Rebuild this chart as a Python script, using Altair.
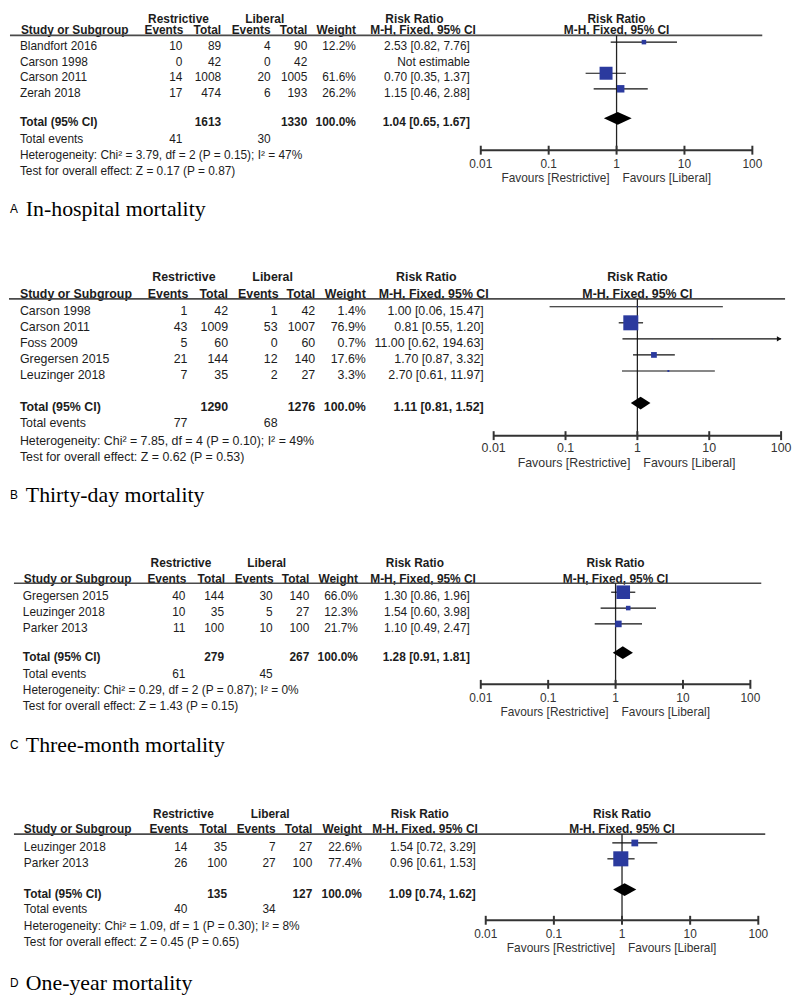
import altair as alt
import pandas as pd

# ---------------- data ----------------
# A  In-hospital mortality
a_study = ["Blandfort 2016", "Carson 1998", "Carson 2011", "Zerah 2018"]
a_r_ev = [10, 0, 14, 17]
a_r_tot = [89, 42, 1008, 474]
a_l_ev = [4, 0, 20, 6]
a_l_tot = [90, 42, 1005, 193]
a_weight = [12.2, None, 61.6, 26.2]
a_rr = [2.53, None, 0.70, 1.15]
a_lo = [0.82, None, 0.35, 0.46]
a_hi = [7.76, None, 1.37, 2.88]
a_totals = [1613, 1330]
a_events = [41, 30]
a_pooled = [1.04, 0.65, 1.67]
a_het = "Heterogeneity: Chi² = 3.79, df = 2 (P = 0.15); I² = 47%"
a_test = "Test for overall effect: Z = 0.17 (P = 0.87)"
a_label = ["A", "In-hospital mortality"]

# B  Thirty-day mortality
b_study = ["Carson 1998", "Carson 2011", "Foss 2009", "Gregersen 2015", "Leuzinger 2018"]
b_r_ev = [1, 43, 5, 21, 7]
b_r_tot = [42, 1009, 60, 144, 35]
b_l_ev = [1, 53, 0, 12, 2]
b_l_tot = [42, 1007, 60, 140, 27]
b_weight = [1.4, 76.9, 0.7, 17.6, 3.3]
b_rr = [1.00, 0.81, 11.00, 1.70, 2.70]
b_lo = [0.06, 0.55, 0.62, 0.87, 0.61]
b_hi = [15.47, 1.20, 194.63, 3.32, 11.97]
b_totals = [1290, 1276]
b_events = [77, 68]
b_pooled = [1.11, 0.81, 1.52]
b_het = "Heterogeneity: Chi² = 7.85, df = 4 (P = 0.10); I² = 49%"
b_test = "Test for overall effect: Z = 0.62 (P = 0.53)"
b_label = ["B", "Thirty-day mortality"]

# C  Three-month mortality
c_study = ["Gregersen 2015", "Leuzinger 2018", "Parker 2013"]
c_r_ev = [40, 10, 11]
c_r_tot = [144, 35, 100]
c_l_ev = [30, 5, 10]
c_l_tot = [140, 27, 100]
c_weight = [66.0, 12.3, 21.7]
c_rr = [1.30, 1.54, 1.10]
c_lo = [0.86, 0.60, 0.49]
c_hi = [1.96, 3.98, 2.47]
c_totals = [279, 267]
c_events = [61, 45]
c_pooled = [1.28, 0.91, 1.81]
c_het = "Heterogeneity: Chi² = 0.29, df = 2 (P = 0.87); I² = 0%"
c_test = "Test for overall effect: Z = 1.43 (P = 0.15)"
c_label = ["C", "Three-month mortality"]

# D  One-year mortality
d_study = ["Leuzinger 2018", "Parker 2013"]
d_r_ev = [14, 26]
d_r_tot = [35, 100]
d_l_ev = [7, 27]
d_l_tot = [27, 100]
d_weight = [22.6, 77.4]
d_rr = [1.54, 0.96]
d_lo = [0.72, 0.61]
d_hi = [3.29, 1.53]
d_totals = [135, 127]
d_events = [40, 34]
d_pooled = [1.09, 0.74, 1.62]
d_het = "Heterogeneity: Chi² = 1.09, df = 1 (P = 0.30); I² = 8%"
d_test = "Test for overall effect: Z = 0.45 (P = 0.65)"
d_label = ["D", "One-year mortality"]

tick_vals = [0.01, 0.1, 1, 10, 100]
tick_text = ["0.01", "0.1", "1", "10", "100"]

# ---------------- style ----------------
FONT = "Liberation Sans"
SERIF = "Liberation Serif"
TXT = "#1c1c1c"
GREY = "#333333"
BLUE = "#2b3a9e"
W = 784


def make_panel(d, lay, cols, hdr, xr, lx, y0, pitch, H, fs, smax):
    ys = alt.Scale(domain=[0, 10], range=[y0, y0 + 10 * pitch], nice=False, zero=False)
    xs = alt.Scale(type="log", domain=[0.01, 100], range=xr, nice=False)

    def Y(f):
        return alt.Y(f, type="quantitative", scale=ys, axis=None)

    def X(f):
        return alt.X(f, type="quantitative", scale=xs, axis=None)

    layers = []

    def lab(text, row, x, align="right", bold=False, size=None, font=FONT, color=TXT):
        df = pd.DataFrame({"row": [row], "t": [text]})
        layers.append(
            alt.Chart(df).mark_text(
                align=align, baseline="middle", font=font, fontSize=size or fs,
                fontWeight="bold" if bold else "normal", color=color,
            ).encode(x=alt.value(x), y=Y("row"), text=alt.Text("t:N"))
        )

    def col(df, field, x, align="right", bold=False):
        layers.append(
            alt.Chart(df).mark_text(
                align=align, baseline="middle", font=FONT, fontSize=fs,
                fontWeight="bold" if bold else "normal", color=TXT,
            ).encode(x=alt.value(x), y=Y("row"), text=alt.Text(field + ":N"))
        )

    n = len(d["study"])
    st = pd.DataFrame({
        "row": list(range(n)),
        "name": d["study"],
        "rev": [str(v) for v in d["r_ev"]],
        "rtot": [str(v) for v in d["r_tot"]],
        "lev": [str(v) for v in d["l_ev"]],
        "ltot": [str(v) for v in d["l_tot"]],
        "wt": ["" if w is None else f"{w:.1f}%" for w in d["weight"]],
        "rrs": ["Not estimable" if r is None else f"{r:.2f} [{l:.2f}, {h:.2f}]"
                for r, l, h in zip(d["rr"], d["lo"], d["hi"])],
    })

    # header lines
    lab("Restrictive", lay["h1"], hdr["restr"], "center", True)
    lab("Liberal", lay["h1"], hdr["lib"], "center", True)
    lab("Risk Ratio", lay["h1"], hdr["rr1"], "center", True)
    lab("Study or Subgroup", lay["h2"], hdr["study"], "left", True)
    lab("Events", lay["h2"], hdr["ev"], "right", True)
    lab("Total", lay["h2"], hdr["tot"], "right", True)
    lab("Events", lay["h2"], hdr["lev"], "right", True)
    lab("Total", lay["h2"], hdr["ltot"], "right", True)
    lab("Weight", lay["h2"], hdr["wt"], "right", True)
    lab("M-H, Fixed, 95% CI", lay["h2"], hdr["rr2"], "right", True)

    # study rows
    col(st, "name", cols["name"], "left")
    col(st, "rev", cols["ev"])
    col(st, "rtot", cols["tot"])
    col(st, "lev", cols["lev"])
    col(st, "ltot", cols["ltot"])
    col(st, "wt", cols["wt"])
    col(st, "rrs", cols["rr"])

    # total rows
    p = d["pooled"]
    lab("Total (95% CI)", lay["total"], cols["name"], "left", True)
    lab(str(d["totals"][0]), lay["total"], cols["tot"], "right", True)
    lab(str(d["totals"][1]), lay["total"], cols["ltot"], "right", True)
    lab("100.0%", lay["total"], cols["wt"], "right", True)
    lab(f"{p[0]:.2f} [{p[1]:.2f}, {p[2]:.2f}]", lay["total"], cols["rr"], "right", True)
    lab("Total events", lay["te"], cols["name"], "left")
    lab(str(d["events"][0]), lay["te"], cols["ev"], "right")
    lab(str(d["events"][1]), lay["te"], cols["lev"], "right")
    lab(d["het"], lay["het"], cols["name"], "left")
    lab(d["test"], lay["test"], cols["name"], "left")

    # forest headers
    hd = pd.DataFrame({"x": [1, 1], "row": [lay["h1"], lay["h2"]], "t": ["Risk Ratio", "M-H, Fixed, 95% CI"]})
    layers.append(
        alt.Chart(hd).mark_text(align="center", baseline="middle", font=FONT, fontSize=fs,
                                fontWeight="bold", color=TXT)
        .encode(x=X("x"), y=Y("row"), text="t:N")
    )

    # header rule
    layers.append(
        alt.Chart(pd.DataFrame({"row": [lay["line"]]})).mark_rule(color="#4a4a4a", strokeWidth=1.6)
        .encode(x=alt.value(lx[0]), x2=alt.value(lx[1]), y=Y("row"))
    )

    # vertical line at 1
    layers.append(
        alt.Chart(pd.DataFrame({"x": [1], "y": [lay["line"]], "y2": [lay["axis"]]}))
        .mark_rule(color="#222222", strokeWidth=1.3)
        .encode(x=X("x"), y=Y("y"), y2="y2:Q")
    )

    # study markers
    off = 4.0 / pitch
    fr = pd.DataFrame({
        "mrow": [i - off for i in range(n)],
        "rr": d["rr"], "lo": d["lo"], "hi": d["hi"], "w": d["weight"],
    }).dropna()
    fr["hic"] = fr["hi"].clip(upper=100)
    layers.append(
        alt.Chart(fr).mark_rule(color="#111111", strokeWidth=1.2)
        .encode(x=X("lo"), x2="hic:Q", y=Y("mrow"))
    )
    layers.append(
        alt.Chart(fr).mark_square(filled=True, color=BLUE, opacity=1)
        .encode(x=X("rr"), y=Y("mrow"),
                size=alt.Size("w:Q", scale=alt.Scale(type="pow", exponent=1.3, domain=[0, 100], range=[0, smax]),
                              legend=None))
    )
    arr = fr[fr["hi"] > 100]
    if len(arr):
        layers.append(
            alt.Chart(arr).mark_point(shape="triangle-right", filled=True, color="#111111", size=28, opacity=1, xOffset=-2)
            .encode(x=X("hic"), y=Y("mrow"))
        )

    # pooled diamond
    h = 6.5 / pitch
    tr = lay["total"] - off
    dm = pd.DataFrame({"x": [p[1], p[0], p[2]], "y": [tr, tr - h, tr], "y2": [tr, tr + h, tr]})
    layers.append(
        alt.Chart(dm).mark_area(color="#000000", opacity=1)
        .encode(x=X("x"), y=Y("y"), y2="y2:Q")
    )

    # axis
    layers.append(
        alt.Chart(pd.DataFrame({"x": [tick_vals[0]], "x2": [tick_vals[-1]], "row": [lay["axis"]]}))
        .mark_rule(color=GREY, strokeWidth=2)
        .encode(x=X("x"), x2="x2:Q", y=Y("row"))
    )
    tk = pd.DataFrame({"x": tick_vals, "t": tick_text, "row": [lay["axis"]] * 5, "trow": [lay["tick"]] * 5})
    layers.append(
        alt.Chart(tk).mark_tick(orient="vertical", size=9, thickness=2, color=GREY, opacity=1)
        .encode(x=X("x"), y=Y("row"))
    )
    layers.append(
        alt.Chart(tk).mark_text(align="center", baseline="middle", font=FONT, fontSize=fs, color=GREY)
        .encode(x=X("x"), y=Y("trow"), text="t:N")
    )
    fv = pd.DataFrame({"x": [1], "row": [lay["fav"]]})
    layers.append(
        alt.Chart(fv).mark_text(align="right", baseline="middle", font=FONT, fontSize=fs, color=GREY, dx=-7)
        .encode(x=X("x"), y=Y("row"), text=alt.value("Favours [Restrictive]"))
    )
    layers.append(
        alt.Chart(fv).mark_text(align="left", baseline="middle", font=FONT, fontSize=fs, color=GREY, dx=6)
        .encode(x=X("x"), y=Y("row"), text=alt.value("Favours [Liberal]"))
    )

    # panel label
    lab(d["label"][0], lay["label"], 2, "left", False, 12, FONT, "#000000")
    lab(d["label"][1], lay["label"], 18, "left", False, 22, SERIF, "#000000")

    return alt.layer(*layers).properties(width=W, height=H)


def pack(study, r_ev, r_tot, l_ev, l_tot, weight, rr, lo, hi, totals, events, pooled, het, test, label):
    return dict(study=study, r_ev=r_ev, r_tot=r_tot, l_ev=l_ev, l_tot=l_tot, weight=weight,
                rr=rr, lo=lo, hi=hi, totals=totals, events=events, pooled=pooled,
                het=het, test=test, label=label)


pA = make_panel(
    pack(a_study, a_r_ev, a_r_tot, a_l_ev, a_l_tot, a_weight, a_rr, a_lo, a_hi, a_totals, a_events, a_pooled, a_het, a_test, a_label),
    lay=dict(h1=-1.77, h2=-1.0, line=-0.69, total=4.9, te=6.0, het=7.0, test=8.0, axis=6.69, tick=7.58, fav=8.47, label=10.5),
    cols=dict(name=12, ev=176, tot=215, lev=265, ltot=302, wt=351, rr=466),
    hdr=dict(restr=172, lib=259, rr1=410, rr2=472, study=13, ev=177, tot=215, lev=265, ltot=302, wt=351),
    xr=[477, 751], lx=[2, 761], y0=34, pitch=15.7, H=228, fs=12, smax=322,
)
pB = make_panel(
    pack(b_study, b_r_ev, b_r_tot, b_l_ev, b_l_tot, b_weight, b_rr, b_lo, b_hi, b_totals, b_events, b_pooled, b_het, b_test, b_label),
    lay=dict(h1=-2.1, h2=-1.05, line=-0.74, total=6.0, te=7.0, het=8.1, test=9.1, axis=7.78, tick=8.58, fav=9.5, label=11.5),
    cols=dict(name=12, ev=181, tot=222, lev=272, ltot=310, wt=361, rr=480),
    hdr=dict(restr=177.5, lib=267, rr1=422, rr2=485, study=12, ev=182, tot=222, lev=273, ltot=310, wt=361),
    xr=[490, 780], lx=[1, 784], y0=73, pitch=16.2, H=288, fs=12.5, smax=360,
)
pC = make_panel(
    pack(c_study, c_r_ev, c_r_tot, c_l_ev, c_l_tot, c_weight, c_rr, c_lo, c_hi, c_totals, c_events, c_pooled, c_het, c_test, c_label),
    lay=dict(h1=-2.06, h2=-1.06, line=-0.81, total=3.81, te=4.94, het=5.94, test=6.94, axis=5.56, tick=6.44, fav=7.31, label=9.375),
    cols=dict(name=15, ev=179, tot=218, lev=267, ltot=304, wt=353, rr=466),
    hdr=dict(restr=174.5, lib=261, rr1=410.5, rr2=472, study=16, ev=180, tot=219, lev=268, ltot=304, wt=353),
    xr=[477, 749], lx=[6, 760], y0=73, pitch=16, H=244, fs=12, smax=260,
)
pD = make_panel(
    pack(d_study, d_r_ev, d_r_tot, d_l_ev, d_l_tot, d_weight, d_rr, d_lo, d_hi, d_totals, d_events, d_pooled, d_het, d_test, d_label),
    lay=dict(h1=-2.06, h2=-1.125, line=-0.81, total=2.94, te=3.94, het=5.0, test=6.0, axis=4.625, tick=5.5, fav=6.375, label=8.6),
    cols=dict(name=16, ev=181, tot=221, lev=270, ltot=307, wt=357, rr=472),
    hdr=dict(restr=177, lib=264.5, rr1=415.5, rr2=474, study=16, ev=182, tot=221, lev=270, ltot=307, wt=357),
    xr=[482, 757], lx=[6, 764], y0=82, pitch=16, H=226, fs=12, smax=320,
)

chart = (
    alt.vconcat(pA, pB, pC, pD, spacing=0, bounds="flush")
    .properties(padding=0, background="white")
    .configure_view(stroke=None)
)

chart.save("out.html", embed_options={"renderer": "svg", "actions": False})
